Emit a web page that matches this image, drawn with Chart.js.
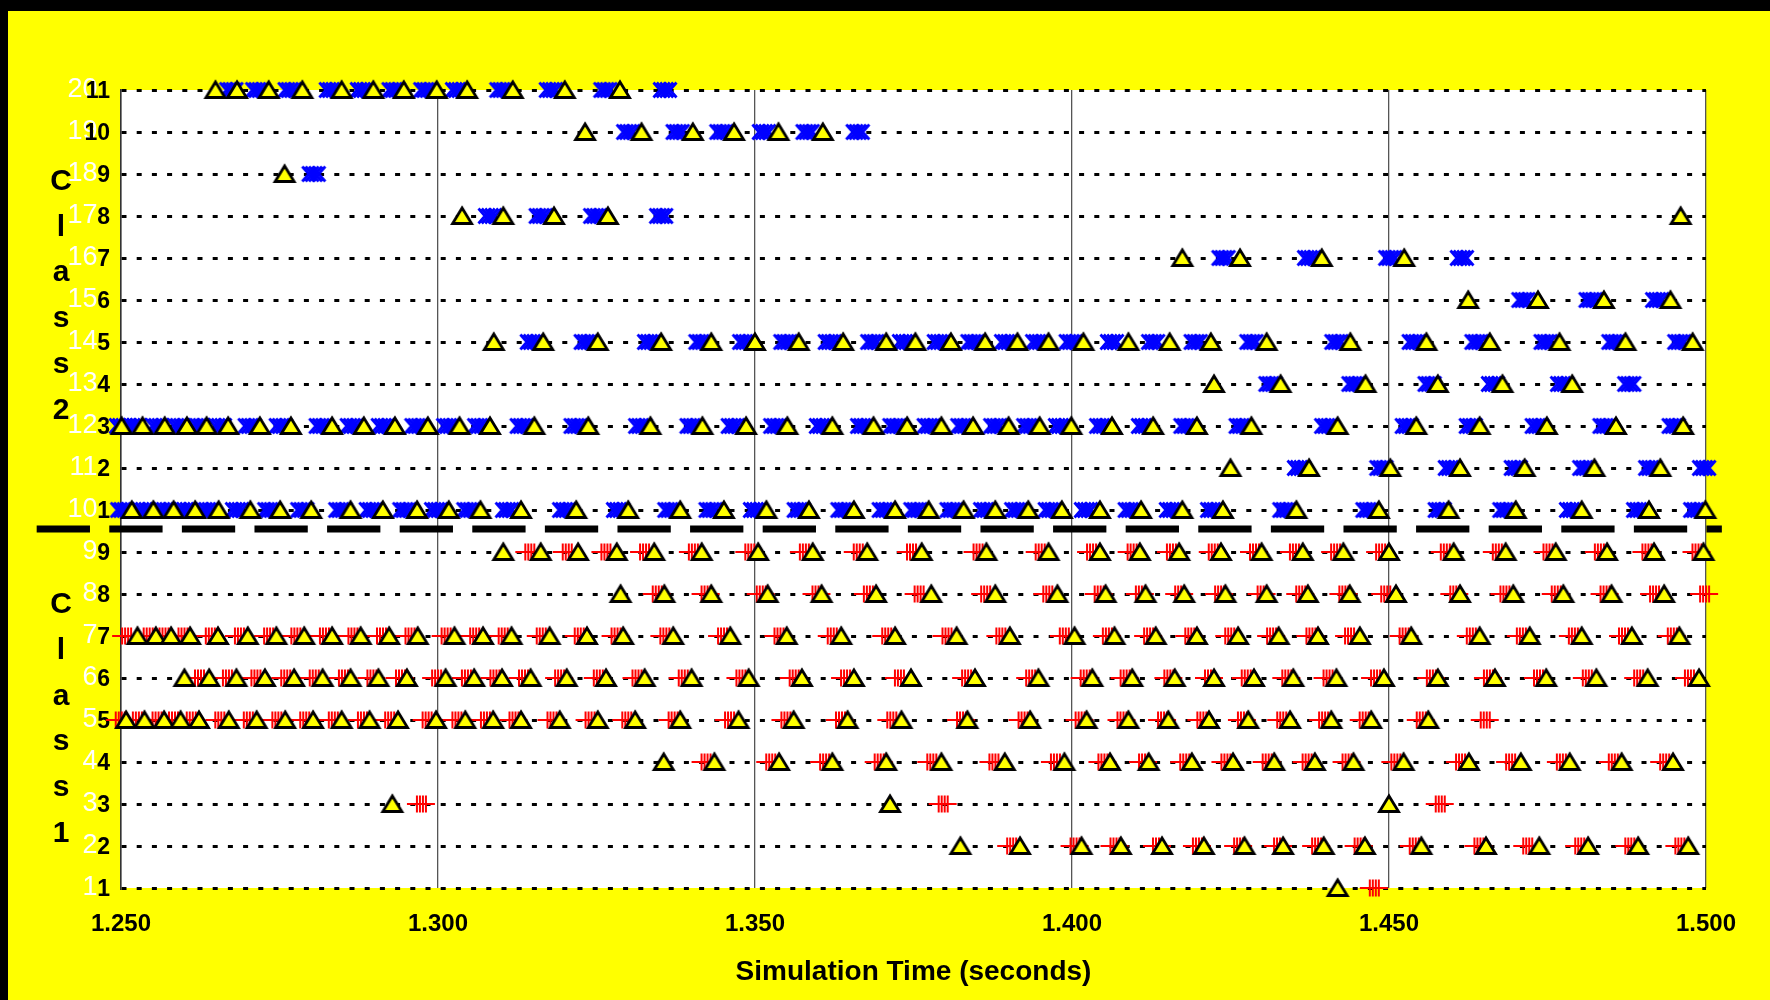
<!DOCTYPE html>
<html>
<head>
<meta charset="utf-8">
<script src="https://cdn.jsdelivr.net/npm/chart.js@4.4.1/dist/chart.umd.min.js"></script>
<style>
body{margin:0;background:#ffff00;}
canvas{display:block;}
</style>
</head>
<body>
<canvas id="simChart" width="1770" height="1000"></canvas>
<script>

// x ticks and rows
const xTicks = [1.25, 1.30, 1.35, 1.40, 1.45, 1.50];
const rows = [1,2,3,4,5,6,7,8,9,10,11,12,13,14,15,16,17,18,19,20];
const dividerY = 9.55;
const dividerX = [1.2367, 1.5025];

// class 2 (rows 10..20): triangles and blue x packets
const tri20 = [1.2649, 1.2683, 1.2733, 1.2786, 1.2848, 1.2898, 1.2946, 1.2998, 1.3046, 1.3118, 1.3200, 1.3287];
const mark20 = [1.2674, 1.2715, 1.2766, 1.2831, 1.2880, 1.2930, 1.2980, 1.3030, 1.3100, 1.3178, 1.3264, 1.3358];
const tri19 = [1.3232, 1.3321, 1.3402, 1.3467, 1.3537, 1.3607];
const mark19 = [1.3300, 1.3378, 1.3447, 1.3514, 1.3583, 1.3662];
const tri18 = [1.2758];
const mark18 = [1.2804];
const tri17 = [1.3038, 1.3103, 1.3183, 1.3268, 1.4960];
const mark17 = [1.3082, 1.3162, 1.3248, 1.3352];
const tri16 = [1.4174, 1.4265, 1.4394, 1.4524];
const mark16 = [1.4239, 1.4374, 1.4502, 1.4615];
const tri15 = [1.4625, 1.4735, 1.4839, 1.4944];
const mark15 = [1.4712, 1.4818, 1.4923];
const tri14 = [1.3088, 1.3166, 1.3252, 1.3352, 1.3431, 1.3500, 1.3569, 1.3639, 1.3707, 1.3753, 1.3809, 1.3863, 1.3914, 1.3963, 1.4018, 1.4089, 1.4154, 1.4219, 1.4307, 1.4439, 1.4559, 1.4659, 1.4769, 1.4873, 1.4979];
const mark14 = [1.3148, 1.3233, 1.3333, 1.3414, 1.3483, 1.3548, 1.3618, 1.3685, 1.3735, 1.3790, 1.3843, 1.3896, 1.3945, 1.3998, 1.4063, 1.4128, 1.4195, 1.4283, 1.4417, 1.4539, 1.4638, 1.4747, 1.4854, 1.4958];
const tri13 = [1.4224, 1.4329, 1.4463, 1.4577, 1.4679, 1.4789];
const mark13 = [1.4313, 1.4444, 1.4564, 1.4664, 1.4773, 1.4879];
const tri12 = [1.2501, 1.2534, 1.2569, 1.2604, 1.2635, 1.2669, 1.2719, 1.2768, 1.2833, 1.2883, 1.2932, 1.2984, 1.3034, 1.3082, 1.3152, 1.3237, 1.3335, 1.3417, 1.3486, 1.3551, 1.3622, 1.3687, 1.3740, 1.3794, 1.3844, 1.3900, 1.3949, 1.3999, 1.4063, 1.4128, 1.4197, 1.4283, 1.4419, 1.4543, 1.4643, 1.4749, 1.4858, 1.4964];
const mark12 = [1.2500, 1.2522, 1.2557, 1.2591, 1.2622, 1.2656, 1.2703, 1.2752, 1.2815, 1.2864, 1.2913, 1.2966, 1.3016, 1.3065, 1.3132, 1.3217, 1.3319, 1.3400, 1.3465, 1.3532, 1.3604, 1.3669, 1.3720, 1.3774, 1.3827, 1.3879, 1.3931, 1.3981, 1.4046, 1.4112, 1.4179, 1.4266, 1.4401, 1.4528, 1.4629, 1.4733, 1.4840, 1.4949];
const tri11 = [1.4250, 1.4374, 1.4502, 1.4612, 1.4714, 1.4824, 1.4928];
const mark11 = [1.4358, 1.4488, 1.4596, 1.4700, 1.4808, 1.4912, 1.4997];
const tri10 = [1.2517, 1.2551, 1.2583, 1.2617, 1.2654, 1.2704, 1.2751, 1.2800, 1.2862, 1.2913, 1.2967, 1.3017, 1.3067, 1.3131, 1.3218, 1.3300, 1.3382, 1.3451, 1.3518, 1.3585, 1.3656, 1.3721, 1.3774, 1.3829, 1.3879, 1.3931, 1.3984, 1.4044, 1.4109, 1.4174, 1.4238, 1.4354, 1.4484, 1.4594, 1.4700, 1.4804, 1.4910, 1.4999];
const mark10 = [1.2502, 1.2536, 1.2569, 1.2601, 1.2636, 1.2683, 1.2734, 1.2786, 1.2846, 1.2894, 1.2947, 1.2997, 1.3048, 1.3109, 1.3199, 1.3284, 1.3365, 1.3430, 1.3500, 1.3569, 1.3638, 1.3703, 1.3753, 1.3810, 1.3863, 1.3912, 1.3965, 1.4022, 1.4091, 1.4156, 1.4221, 1.4335, 1.4466, 1.4580, 1.4682, 1.4787, 1.4893, 1.4983];

// class 1 (rows 1..9): triangles and red + packets
const tri9 = [1.3103, 1.3162, 1.3221, 1.3282, 1.3341, 1.3416, 1.3505, 1.3591, 1.3677, 1.3763, 1.3865, 1.3963, 1.4044, 1.4107, 1.4169, 1.4235, 1.4299, 1.4364, 1.4428, 1.4500, 1.4602, 1.4684, 1.4763, 1.4844, 1.4918, 1.4996];
const mark9 = [1.3144, 1.3203, 1.3264, 1.3325, 1.3402, 1.3491, 1.3577, 1.3662, 1.3746, 1.3851, 1.3949, 1.4030, 1.4094, 1.4156, 1.4222, 1.4287, 1.4350, 1.4415, 1.4486, 1.4588, 1.4670, 1.4750, 1.4831, 1.4906, 1.4985];
const tri8 = [1.3288, 1.3357, 1.3431, 1.3520, 1.3605, 1.3691, 1.3778, 1.3879, 1.3977, 1.4053, 1.4116, 1.4177, 1.4242, 1.4307, 1.4372, 1.4438, 1.4511, 1.4612, 1.4696, 1.4775, 1.4851, 1.4934];
const mark8 = [1.3345, 1.3422, 1.3509, 1.3597, 1.3678, 1.3758, 1.3863, 1.3961, 1.4042, 1.4107, 1.4169, 1.4232, 1.4299, 1.4360, 1.4428, 1.4494, 1.4603, 1.4682, 1.4763, 1.4840, 1.4918, 1.4997];
const tri7 = [1.2526, 1.2555, 1.2579, 1.2609, 1.2653, 1.2700, 1.2745, 1.2789, 1.2833, 1.2878, 1.2923, 1.2968, 1.3026, 1.3071, 1.3116, 1.3176, 1.3235, 1.3292, 1.3371, 1.3461, 1.3550, 1.3636, 1.3721, 1.3818, 1.3902, 1.4004, 1.4067, 1.4132, 1.4197, 1.4262, 1.4326, 1.4388, 1.4454, 1.4535, 1.4643, 1.4722, 1.4804, 1.4883, 1.4958];
const mark7 = [1.2508, 1.2542, 1.2567, 1.2597, 1.2640, 1.2686, 1.2732, 1.2775, 1.2820, 1.2865, 1.2910, 1.2955, 1.3012, 1.3057, 1.3102, 1.3162, 1.3222, 1.3280, 1.3357, 1.3448, 1.3537, 1.3621, 1.3707, 1.3802, 1.3887, 1.3987, 1.4055, 1.4120, 1.4185, 1.4248, 1.4314, 1.4376, 1.4437, 1.4523, 1.4629, 1.4708, 1.4790, 1.4869, 1.4946];
const tri6 = [1.2600, 1.2639, 1.2682, 1.2727, 1.2773, 1.2818, 1.2862, 1.2906, 1.2951, 1.3012, 1.3057, 1.3101, 1.3146, 1.3203, 1.3265, 1.3326, 1.3400, 1.3490, 1.3574, 1.3656, 1.3746, 1.3847, 1.3947, 1.4032, 1.4095, 1.4162, 1.4224, 1.4287, 1.4349, 1.4417, 1.4492, 1.4577, 1.4667, 1.4748, 1.4827, 1.4908, 1.4989];
const mark6 = [1.2623, 1.2667, 1.2712, 1.2759, 1.2804, 1.2850, 1.2895, 1.2940, 1.2997, 1.3044, 1.3089, 1.3134, 1.3191, 1.3252, 1.3313, 1.3386, 1.3477, 1.3561, 1.3642, 1.3727, 1.3833, 1.3934, 1.4020, 1.4083, 1.4152, 1.4216, 1.4274, 1.4338, 1.4403, 1.4478, 1.4566, 1.4656, 1.4735, 1.4812, 1.4893, 1.4973];
const tri5 = [1.2508, 1.2537, 1.2568, 1.2594, 1.2623, 1.2670, 1.2714, 1.2759, 1.2803, 1.2848, 1.2892, 1.2937, 1.2997, 1.3043, 1.3087, 1.3131, 1.3192, 1.3252, 1.3311, 1.3382, 1.3474, 1.3561, 1.3646, 1.3731, 1.3835, 1.3934, 1.4023, 1.4089, 1.4152, 1.4216, 1.4278, 1.4344, 1.4409, 1.4472, 1.4562];
const mark5 = [1.2498, 1.2525, 1.2556, 1.2582, 1.2610, 1.2655, 1.2700, 1.2745, 1.2789, 1.2834, 1.2880, 1.2923, 1.2982, 1.3029, 1.3074, 1.3119, 1.3179, 1.3239, 1.3297, 1.3370, 1.3459, 1.3548, 1.3634, 1.3715, 1.3825, 1.3922, 1.4012, 1.4078, 1.4142, 1.4204, 1.4268, 1.4330, 1.4396, 1.4460, 1.4550, 1.4651];
const tri4 = [1.3356, 1.3436, 1.3538, 1.3622, 1.3707, 1.3794, 1.3894, 1.3988, 1.4060, 1.4121, 1.4189, 1.4254, 1.4319, 1.4383, 1.4444, 1.4523, 1.4626, 1.4708, 1.4785, 1.4867, 1.4948];
const mark4 = [1.3422, 1.3524, 1.3609, 1.3695, 1.3778, 1.3876, 1.3973, 1.4048, 1.4112, 1.4177, 1.4242, 1.4307, 1.4370, 1.4433, 1.4510, 1.4612, 1.4691, 1.4771, 1.4853, 1.4934];
const tri3 = [1.2928, 1.3713, 1.4500];
const mark3 = [1.2973, 1.3796, 1.4580];
const tri2 = [1.3824, 1.3918, 1.4015, 1.4077, 1.4142, 1.4208, 1.4272, 1.4333, 1.4397, 1.4462, 1.4551, 1.4653, 1.4737, 1.4814, 1.4893, 1.4972];
const mark2 = [1.3904, 1.4004, 1.4067, 1.4134, 1.4197, 1.4262, 1.4325, 1.4385, 1.4452, 1.4539, 1.4641, 1.4718, 1.4800, 1.4879, 1.4958];
const tri1 = [1.4419];
const mark1 = [1.4476];

const triRows = [tri1, tri2, tri3, tri4, tri5, tri6, tri7, tri8, tri9, tri10,
                 tri11, tri12, tri13, tri14, tri15, tri16, tri17, tri18, tri19, tri20];
const markRows = [mark1, mark2, mark3, mark4, mark5, mark6, mark7, mark8, mark9, mark10,
                  mark11, mark12, mark13, mark14, mark15, mark16, mark17, mark18, mark19, mark20];

let triangleData = [];
let crossData = [];
let plusData = [];

rows.forEach((row, i) => {
    triRows[i].forEach(x => triangleData.push({x: x, y: row}));
    markRows[i].forEach(x => {
        if(row >= 10){
            crossData.push({x: x, y: row});
        } else {
            plusData.push({x: x, y: row});
        }
    });
});

const dividerData = dividerX.map(x => ({x: x, y: dividerY}));

// marker glyphs
function makeTriangle(){
    const c = document.createElement("canvas");
    c.width = 26; c.height = 24;
    const g = c.getContext("2d");
    g.beginPath();
    g.moveTo(13, 4);
    g.lineTo(22.5, 19.5);
    g.lineTo(3.5, 19.5);
    g.closePath();
    g.fillStyle = "#ffff00";
    g.fill();
    g.lineWidth = 2.8;
    g.strokeStyle = "#000";
    g.stroke();
    return c;
}

function makeCrossCluster(){
    const c = document.createElement("canvas");
    c.width = 32; c.height = 20;
    const g = c.getContext("2d");
    g.strokeStyle = "#0000ff";
    g.lineWidth = 2.8;
    [-5, -1.7, 1.7, 5].forEach(o => {
        const cx = 16 + o;
        g.beginPath();
        g.moveTo(cx - 6.5, 2.5); g.lineTo(cx + 6.5, 17.5);
        g.moveTo(cx - 6.5, 17.5); g.lineTo(cx + 6.5, 2.5);
        g.stroke();
    });
    return c;
}

function makePlusCluster(){
    const c = document.createElement("canvas");
    c.width = 32; c.height = 20;
    const g = c.getContext("2d");
    g.strokeStyle = "#ff0000";
    g.lineWidth = 2;
    g.beginPath();
    g.moveTo(2, 10); g.lineTo(30, 10);
    [12, 15, 18, 21].forEach(vx => {
        g.moveTo(vx, 1.5); g.lineTo(vx, 18.5);
    });
    g.stroke();
    return c;
}

const triGlyph = makeTriangle();
const crossGlyph = makeCrossCluster();
const plusGlyph = makePlusCluster();

const framePlugin = {
    id: "frame",
    beforeDraw(chart){
        const ctx = chart.ctx;
        const area = chart.chartArea;
        const y = chart.scales.y;
        ctx.save();
        ctx.fillStyle = "#ffff00";
        ctx.fillRect(0, 0, chart.width, chart.height);
        ctx.fillStyle = "#000";
        ctx.fillRect(0, 0, chart.width, 11);
        ctx.fillRect(0, 0, 8, chart.height);
        ctx.fillStyle = "#fff";
        ctx.fillRect(area.left, area.top, area.right - area.left, area.bottom - area.top);

        // white row numbers behind the class numbering
        ctx.font = "27px 'Liberation Sans', Arial, sans-serif";
        ctx.textAlign = "right";
        ctx.textBaseline = "middle";
        rows.forEach(r => {
            ctx.fillText(String(r), 97.5, y.getPixelForValue(r));
        });
        ctx.restore();
    },
    afterDraw(chart){
        const ctx = chart.ctx;
        ctx.save();
        ctx.fillStyle = "#000";
        ctx.font = "bold 30px 'Liberation Sans', Arial, sans-serif";
        ctx.textAlign = "center";
        ctx.textBaseline = "alphabetic";
        const class2 = ["C", "l", "a", "s", "s", "2"];
        const class1 = ["C", "l", "a", "s", "s", "1"];
        class2.forEach((ch, i) => ctx.fillText(ch, 61, 190 + i * 45.7));
        class1.forEach((ch, i) => ctx.fillText(ch, 61, 613 + i * 45.8));
        ctx.restore();
    }
};

const ctx = document.getElementById("simChart").getContext("2d");

Chart.defaults.font.family = "'Liberation Sans', Arial, sans-serif";

const chart = new Chart(ctx, {
    type: "scatter",
    data: {
        datasets: [
            {
                label: "Departures",
                data: triangleData,
                pointStyle: triGlyph,
                pointRadius: 10,
                clip: false,
                order: 0
            },
            {
                label: "Class 2 packets",
                data: crossData,
                pointStyle: crossGlyph,
                pointRadius: 10,
                clip: false,
                order: 1
            },
            {
                label: "Class 1 packets",
                data: plusData,
                pointStyle: plusGlyph,
                pointRadius: 10,
                clip: false,
                order: 1
            },
            {
                type: "line",
                label: "Class divider",
                data: dividerData,
                borderColor: "#000",
                borderWidth: 7,
                borderDash: [53.3, 19.3],
                pointRadius: 0,
                showLine: true,
                clip: false,
                order: 2
            }
        ]
    },
    options: {
        responsive: false,
        devicePixelRatio: 1,
        animation: false,
        events: [],
        layout: {padding: {left: 0, right: 64, top: 90, bottom: 0}},
        plugins: {
            legend: {display: false},
            tooltip: {enabled: false}
        },
        scales: {
            x: {
                type: "linear",
                position: "bottom",
                min: 1.25,
                max: 1.5,
                afterBuildTicks: s => { s.ticks = xTicks.map(v => ({value: v})); },
                afterFit: s => { s.height = 112; },
                grid: {color: "#555", lineWidth: 1.3, drawTicks: false},
                border: {display: false},
                ticks: {
                    callback: v => Number(v).toFixed(3),
                    color: "#000",
                    font: {size: 24, weight: "bold"},
                    padding: 22,
                    maxRotation: 0,
                    autoSkip: false
                },
                title: {
                    display: true,
                    text: "Simulation Time (seconds)",
                    color: "#000",
                    font: {size: 28, weight: "bold"},
                    padding: {top: 0, bottom: 11}
                }
            },
            y: {
                type: "linear",
                min: 1,
                max: 20,
                afterBuildTicks: s => { s.ticks = rows.map(v => ({value: v})); },
                afterFit: s => { s.width = 121; },
                grid: {color: "#000", lineWidth: 3, drawTicks: false},
                border: {display: true, color: "#333", width: 1.5, dash: [5, 10.2]},
                ticks: {
                    callback: v => (v <= 9 ? v : v - 9),
                    color: "#000",
                    font: {size: 23, weight: "bold"},
                    padding: 11,
                    labelOffset: 2,
                    autoSkip: false
                }
            }
        }
    },
    plugins: [framePlugin]
});
</script>
</body>
</html>
